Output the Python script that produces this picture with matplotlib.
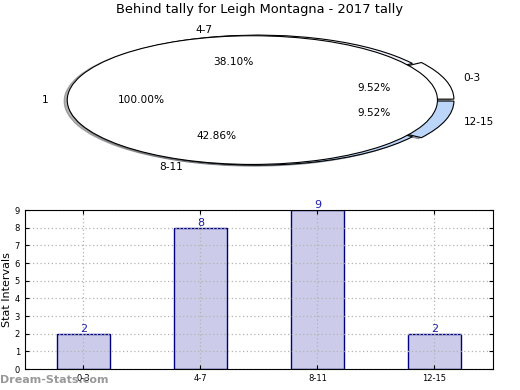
import matplotlib
matplotlib.use("Agg")
from matplotlib import pyplot as plt

title = "Behind tally for Leigh Montagna - 2017 tally"
intervals = ["0-3", "4-7", "8-11", "12-15"]
counts = [2, 8, 9, 2]
total_label = ["1"]
total_value = [1]

pie_colors = ["white", "#eef0fb", "#bcd6f9", "#bcd6f9"]
bar_face = "#ccccea"
bar_edge = "#000080"

fig = plt.figure(figsize=(5.2, 3.9), dpi=100)
fig.text(0.5, 1 - 10 / 390, title, ha="center", va="center", fontsize=9.4)

shadow = {"ox": -0.012, "oy": -0.012, "shade": 0.6}

# top: the split pie with the single "1" wedge laid over it
ax1 = fig.add_axes([0.0466, 0.535, 0.899, 0.4167])
ax1.pie(counts, labels=intervals, colors=pie_colors, explode=[0.05, 0, 0, 0.05],
        autopct="%.2f%%", startangle=0, shadow=shadow,
        wedgeprops={"edgecolor": "black", "linewidth": 0.8},
        textprops={"fontsize": 7.6})
ax1.pie(total_value, labels=total_label, colors=["white"], explode=[0.03],
        radius=0.99, autopct="%.2f%%", startangle=0, shadow=shadow,
        wedgeprops={"edgecolor": "black", "linewidth": 0.8},
        textprops={"fontsize": 7.6})
ax1.set_aspect("auto")
ax1.set_xlim(-1.25, 1.25)
ax1.set_ylim(-1.25, 1.25)

# bottom: bar chart of the same counts
ax2 = fig.add_axes([0.048, 0.0538, 0.9, 0.4077])
xs = range(len(intervals))
ax2.bar(xs, counts, width=0.45, color=bar_face, edgecolor=bar_edge, linewidth=1, zorder=2)
for x, c in zip(xs, counts):
    ax2.text(x, c, str(c), ha="center", va="bottom", color="#2020a8", fontsize=8, zorder=5)
ax2.set_xlim(-0.5, 3.5)
ax2.set_ylim(0, 9)
ax2.set_xticks(list(xs))
ax2.set_xticklabels(intervals)
ax2.set_yticks(range(10))
ax2.tick_params(labelsize=6, direction="in", length=3, top=True, right=True)
ax2.grid(True, linestyle=(0, (1, 2)), color="0.7", linewidth=0.9, zorder=3)
ax2.set_axisbelow(False)
for s in ax2.spines.values():
    s.set_zorder(4)
ax2.set_ylabel("Stat Intervals", fontsize=8, labelpad=2)
ax2.set_xlabel("Frequency", fontsize=8, labelpad=5)

fig.text(0.0, 10 / 390, "Dream-Stats.com", ha="left", va="center", fontsize=8,
         color="0.6", fontweight="bold")

fig.savefig("out.png", dpi=100)
